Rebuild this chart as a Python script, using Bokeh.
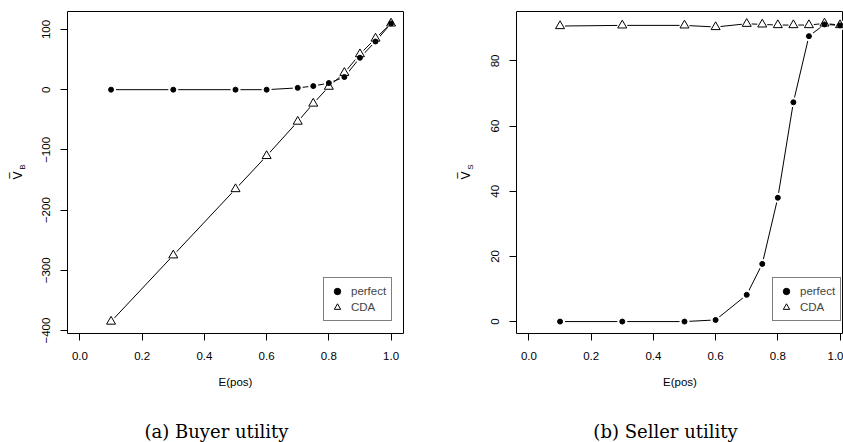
from bokeh.plotting import figure
from bokeh.layouts import row, column
from bokeh.models import Range1d, FixedTicker, Legend, LegendItem, Label, PrintfTickFormatter
from bokeh.embed import file_html
from bokeh.resources import INLINE

# ---- data ----
epos = [0.1, 0.3, 0.5, 0.6, 0.7, 0.75, 0.8, 0.85, 0.9, 0.95, 1.0]
buyer_perfect = [0, 0, 0, 0, 3, 6, 11, 21, 53, 80, 110]
buyer_cda = [-385, -275, -165, -110, -53, -23, 5, 28, 59, 85, 110]
seller_perfect = [0, 0, 0, 0.5, 8.2, 17.7, 38, 67.3, 87.6, 91.2, 90.9]
seller_cda = [90.7, 90.9, 90.9, 90.4, 91.4, 91.2, 91.0, 91.0, 91.0, 91.5, 91.0]
x_ticks = [0.0, 0.2, 0.4, 0.6, 0.8, 1.0]
buyer_y_ticks = [-400, -300, -200, -100, 0, 100]
seller_y_ticks = [0, 20, 40, 60, 80]
series_names = ["perfect", "CDA"]
captions = ["(a) Buyer utility", "(b) Seller utility"]
y_subscripts = ["B", "S"]

FONT = "Liberation Sans"
MAIN_H = 395
CAP_H = 47
FRAME_TOP = 11
FRAME_BOTTOM = 333


def blank(x0, x1, y_top, y_bottom, width, height, b_top=0, b_bottom=0):
    # auxiliary text-only canvas whose data coordinates equal page pixels
    f = figure(width=width, height=height, x_range=Range1d(x0, x1),
               y_range=Range1d(y_bottom, y_top), title=None,
               output_backend="svg", toolbar_location=None, min_border=0,
               min_border_top=b_top, min_border_bottom=b_bottom,
               x_axis_type=None, y_axis_type=None)
    f.outline_line_color = None
    f.grid.visible = False
    return f


def ylabel_fig(x0, x1, xc, sub):
    f = blank(x0, x1, FRAME_TOP, FRAME_BOTTOM, x1 - x0, MAIN_H,
              b_top=FRAME_TOP, b_bottom=MAIN_H - FRAME_BOTTOM)
    f.add_layout(Label(x=xc, y=175, text="V\u0305",
                       angle=90, angle_units="deg", text_align="center", text_baseline="middle",
                       text_font="DejaVu Sans", text_font_size="12px", text_color="black"))
    f.add_layout(Label(x=xc + 5, y=166.5, text=sub,
                       angle=90, angle_units="deg", text_align="center", text_baseline="middle",
                       text_font=FONT, text_font_size="8px", text_color="black"))
    return f


def caption_fig(x0, x1, xc, text):
    f = blank(x0, x1, MAIN_H, MAIN_H + CAP_H, x1 - x0, CAP_H)
    f.add_layout(Label(x=xc, y=431, text=text, text_align="center",
                       text_baseline="alphabetic", text_font="DejaVu Serif",
                       text_font_size="18px", text_color="black"))
    return f


def panel(s1, s2, yticks, width, b_left, b_right, x_end):
    lo = min(min(s1), min(s2))
    hi = max(max(s1), max(s2))
    pad = 0.04 * (hi - lo)
    p = figure(width=width, height=MAIN_H, output_backend="svg", toolbar_location=None,
               title=None,
               x_range=Range1d(-0.04, x_end), y_range=Range1d(lo - pad, hi + pad),
               min_border_left=b_left, min_border_right=b_right,
               min_border_top=FRAME_TOP, min_border_bottom=MAIN_H - FRAME_BOTTOM)
    p.grid.visible = False
    p.outline_line_color = "black"
    p.outline_line_width = 1

    p.xaxis.ticker = FixedTicker(ticks=x_ticks)
    p.xaxis.formatter = PrintfTickFormatter(format="%.1f")
    p.yaxis.ticker = FixedTicker(ticks=yticks)
    p.yaxis.major_label_overrides = {t: str(t).replace("-", "\u2212") for t in yticks}
    p.yaxis.major_label_orientation = "vertical"
    for ax in (p.xaxis, p.yaxis):
        ax.axis_line_color = None
        ax.major_tick_out = 7
        ax.major_tick_in = 0
        ax.minor_tick_out = 0
        ax.minor_tick_in = 0
        ax.major_tick_line_color = "black"
        ax.major_label_text_font = FONT
        ax.major_label_text_font_size = "11.5px"
        ax.major_label_text_color = "black"
    p.xaxis.major_label_standoff = 11
    p.yaxis.major_label_standoff = 10
    p.xaxis.axis_label = "E(pos)"
    p.xaxis.axis_label_text_font = FONT
    p.xaxis.axis_label_text_font_size = "11.5px"
    p.xaxis.axis_label_text_font_style = "normal"
    p.xaxis.axis_label_text_color = "black"
    p.xaxis.axis_label_standoff = 13

    # lines, then white gaps (R type="b"), then markers
    p.line(epos, s1, line_color="black", line_width=1)
    p.line(epos, s2, line_color="black", line_width=1)
    p.scatter(epos, s1, marker="circle", size=10, fill_color="white", line_color=None)
    p.scatter(epos, s2, marker="circle", size=10, fill_color="white", line_color=None)
    r1 = p.scatter(epos, s1, marker="circle", size=5, fill_color="black", line_color="black")
    r2 = p.scatter(epos, s2, marker="triangle", size=9, fill_color=None,
                   line_color="black", line_width=1)

    legend = Legend(items=[LegendItem(label=series_names[0], renderers=[r1]),
                           LegendItem(label=series_names[1], renderers=[r2])],
                    location=(256, 12), padding=5, spacing=0, margin=0,
                    glyph_width=16, glyph_height=16, label_height=16, label_standoff=6,
                    label_text_font=FONT, label_text_font_size="11.5px",
                    border_line_color="black", border_line_width=1,
                    background_fill_color="white", background_fill_alpha=1.0)
    p.add_layout(legend)
    return p


# left block: page x 0..420 ; right block: 420..843
yl1 = ylabel_fig(0, 30, 17, y_subscripts[0])
p1 = panel(buyer_perfect, buyer_cda, buyer_y_ticks, 390, 67 - 30, 17, 1.04)
yl2 = ylabel_fig(420, 476, 465, y_subscripts[1])
p2 = panel(seller_perfect, seller_cda, seller_y_ticks, 367, 516 - 476, 0,
           -0.04 + 327 / 311.1)
cap1 = caption_fig(0, 420, 216, captions[0])
cap2 = caption_fig(420, 843, 665, captions[1])

layout = column(row(yl1, p1, yl2, p2), row(cap1, cap2))
open("out.html", "w").write(file_html(layout, INLINE))
